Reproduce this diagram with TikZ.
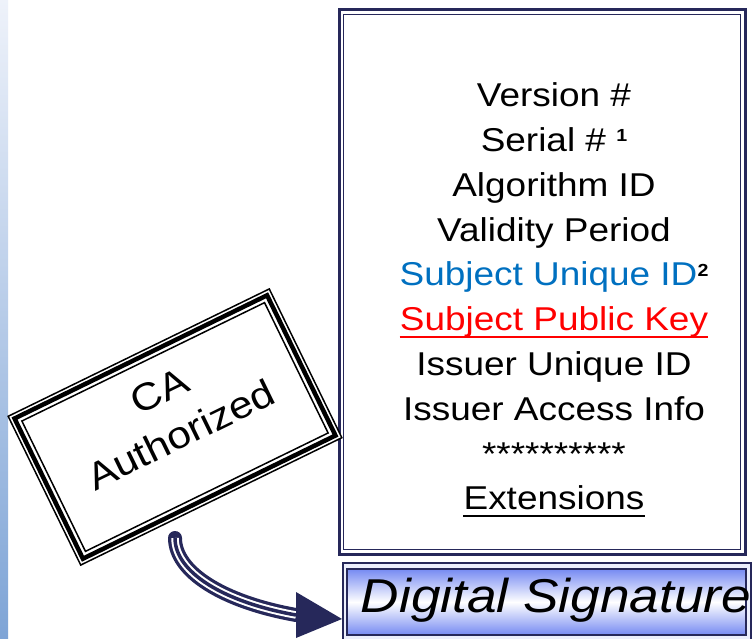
\documentclass[tikz,border=0pt]{standalone}
\usepackage{fontspec}
\setmainfont{Liberation Sans}[FakeStretch=1.12]
\usetikzlibrary{calc}
\definecolor{navy}{RGB}{38,40,90}
\definecolor{subjblue}{RGB}{0,112,192}
\definecolor{dsblue}{RGB}{118,138,242}
\definecolor{dsgap}{RGB}{236,239,252}
\definecolor{striptop}{RGB}{238,242,250}
\definecolor{stripbot}{RGB}{126,164,214}
\newcommand\supnum[2]{\raisebox{#1}{\fontsize{17.5}{17.5}\selectfont\bfseries #2}}
\begin{document}
\begin{tikzpicture}[x=1pt,y=-1pt,
  certline/.style={anchor=base, inner sep=0pt, font=\fontsize{33}{40}\selectfont},
  frame/.style={draw=navy, inner sep=0pt, outer sep=0pt},
  stampline/.style={draw=black, inner sep=0pt, outer sep=0pt, rotate=26},
  shaft/.style={line width=#1, navy}]
\useasboundingbox (0,0) rectangle (753,639);
\fill[white] (0,0) rectangle (753,639);
\shade[top color=striptop, bottom color=stripbot] (0,0) rectangle (8,639);

% certificate box
\node[frame, line width=3pt, fill=white, minimum width=406pt, minimum height=544pt] (cert) at (542,282) {};
\node[frame, line width=1.5pt, minimum width=397pt, minimum height=535pt] (certin) at (cert.center) {};

\node[certline] (l1) at (554,106.7) {Version \#};
\node[certline] (l2) at (554,151.5) {Serial \# \supnum{10pt}{1}};
\node[certline] (l3) at (554,196.3) {Algorithm ID};
\node[certline] (l4) at (554,241.1) {Validity Period};
\node[certline] (l5) at (554,285.9) {\textcolor{subjblue}{Subject Unique ID}\supnum{9pt}{2}};
\node[certline, text=red] (l6) at (554,330.7) {Subject Public Key};
\node[certline] (l7) at (554,375.5) {Issuer Unique ID};
\node[certline] (l8) at (554,420.3) {Issuer Access Info};
\node[certline] (l9) at (554,465.1) {**********};
\node[certline] (l10) at (554,509.9) {Extensions};
\draw[red, line width=2pt] ([yshift=-6.5pt]l6.base west) -- ([yshift=-6.5pt]l6.base east);
\draw[black, line width=2pt] ([yshift=-6.5pt]l10.base west) -- ([yshift=-6.5pt]l10.base east);

% digital signature box
\node[frame, line width=1.5pt, fill=dsgap, minimum width=408pt, minimum height=78pt] (dsout) at (547,602) {};
\node[frame, line width=2.5pt, top color=dsblue, bottom color=dsblue, middle color=white, minimum width=399pt, minimum height=66pt] (ds) at (546.5,602) {};
\node[anchor=base, inner sep=0pt, font=\fontsize{47.5}{48}\selectfont\itshape] (dstext) at (556,612) {Digital Signature};

% CA stamp
\node[stampline, line width=1.5pt, fill=white, minimum width=290.5pt, minimum height=165.5pt] (ca) at (175,427) {};
\node[stampline, line width=4.5pt, minimum width=281pt, minimum height=156pt] (camid) at (ca.center) {};
\node[stampline, line width=1.5pt, minimum width=270pt, minimum height=145pt] (cain) at (ca.center) {};
\node[rotate=26, align=center, inner sep=0pt, font=\fontsize{38}{49}\selectfont] (catext) at (170,413) {CA\\Authorized};

% arrow from stamp to signature
\coordinate (astart) at (175,538);
\coordinate (tip) at ([xshift=-1pt, yshift=-17pt]dsout.west);
\coordinate (hb) at ([xshift=-46pt, yshift=4pt]tip);
\draw[shaft=14pt, line cap=round] (astart) .. controls +(0,34) and +(-73,-13) .. (hb);
\draw[shaft=7.5pt, white] (astart) .. controls +(0,34) and +(-73,-13) .. (hb);
\draw[shaft=3.5pt] (astart) .. controls +(0,34) and +(-73,-13) .. (hb);
\fill[navy] (tip) -- ([yshift=23pt]hb) -- ([yshift=-23pt]hb) -- cycle;
\end{tikzpicture}
\end{document}
